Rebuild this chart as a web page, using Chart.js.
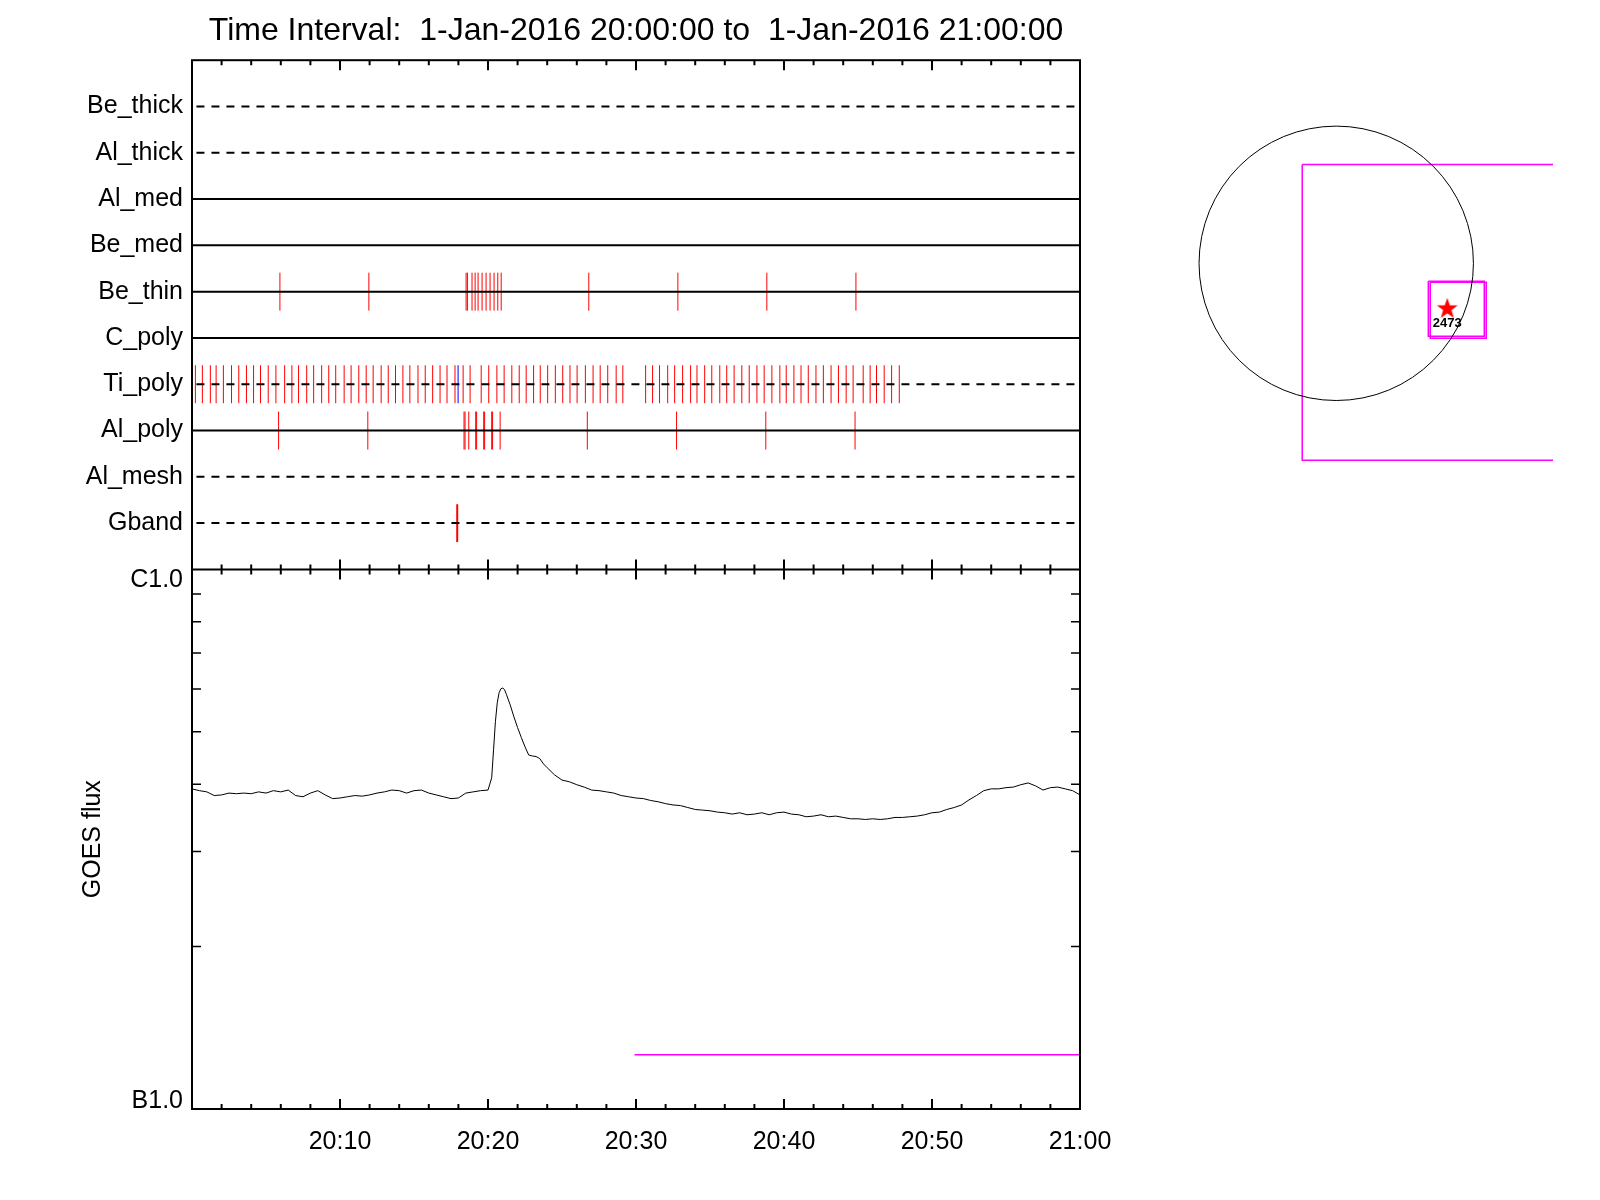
<!DOCTYPE html>
<html>
<head>
<meta charset="utf-8">
<title>XRT filters and GOES flux, 1-Jan-2016</title>
<script src="https://cdn.jsdelivr.net/npm/chart.js@4.4.0/dist/chart.umd.min.js"></script>
<style>
  body { margin: 0; background: #fff; }
  #timeline { position: absolute; left: 0; top: 0; }
  #disc { position: absolute; left: 1140px; top: 40px; }
</style>
</head>
<body>
<canvas id="timeline" width="1600" height="1200"></canvas>
<canvas id="disc" width="413" height="450"></canvas>
<script>
// filter rows, bottom to top (row value 1..10)
const filterNames = ['Gband', 'Al_mesh', 'Al_poly', 'Ti_poly', 'C_poly', 'Be_thin', 'Be_med', 'Al_med', 'Al_thick', 'Be_thick'];
const dashedFilters = ['Gband', 'Al_mesh', 'Ti_poly', 'Al_thick', 'Be_thick'];

// exposures, minutes after 20:00
const beThinTimes = [5.94, 11.95, 18.52, 18.61, 18.92, 19.13, 19.33, 19.60, 19.87, 20.14, 20.41, 20.66, 20.89,
  26.81, 32.83, 38.84, 44.86];
const alPolyTimes = [5.85, 11.88, 18.38, 18.45, 18.70, 19.17, 19.23, 19.71, 19.77, 20.25, 20.31, 20.82,
  26.71, 32.74, 38.77, 44.80];
const tiPolyTimes = [0.23, 0.70, 1.24, 1.63, 2.12, 2.67, 3.16, 3.68, 4.16, 4.63, 5.15, 5.67, 6.26, 6.75,
  7.20, 7.75, 8.22, 8.76, 9.24, 9.71, 10.28, 10.75, 11.27, 11.77, 12.24, 12.78, 13.26, 13.75, 14.25,
  14.72, 15.27, 15.76, 16.26, 16.76, 17.23, 17.77, 18.32, 18.79, 19.54, 20.05, 20.60, 21.09, 21.61,
  22.11, 22.58, 23.08, 23.53, 24.03, 24.55, 25.05, 25.54, 26.02, 26.58, 27.10, 27.58, 28.09, 28.66,
  29.11, 30.65, 31.12, 31.59, 32.14, 32.61, 33.15, 33.69, 34.12, 34.64, 35.12, 35.66, 36.13, 36.63,
  37.15, 37.65, 38.17, 38.66, 39.18, 39.72, 40.15, 40.67, 41.15, 41.64, 42.16, 42.66, 43.18, 43.68,
  44.20, 44.67, 45.35, 45.82, 46.25, 46.77, 47.27, 47.79];
const tiPolyBlueTimes = [17.98];
const gbandTimes = [17.92];

// GOES 1-8 A flux, minutes after 20:00, flux in units of 1e-7 W m^-2
const goesTime = [0, 0.5, 1, 1.5, 2, 2.5, 3, 3.5, 4, 4.5, 5, 5.5, 6, 6.5, 7, 7.5, 8, 8.5, 9, 9.5,
  10, 10.5, 11, 11.5, 12, 12.5, 13, 13.5, 14, 14.5, 15, 15.5, 16, 16.5, 17, 17.5, 18, 18.5, 19, 19.5,
  20, 20.25, 20.375, 20.5, 20.625, 20.75, 20.875, 21, 21.125, 21.25, 21.5, 21.75, 22, 22.25, 22.5, 22.75,
  23, 23.25, 23.5, 23.75, 24, 24.5, 25, 25.5, 26, 26.5, 27, 27.5, 28, 28.5, 29, 29.5,
  30, 30.5, 31, 31.5, 32, 32.5, 33, 33.5, 34, 34.5, 35, 35.5, 36, 36.5, 37, 37.5, 38, 38.5, 39, 39.5,
  40, 40.5, 41, 41.5, 42, 42.5, 43, 43.5, 44, 44.5, 45, 45.5, 46, 46.5, 47, 47.5, 48, 48.5, 49, 49.5,
  50, 50.5, 51, 51.5, 52, 52.5, 53, 53.5, 54, 54.5, 55, 55.5, 56, 56.5, 57, 57.5, 58, 58.5, 59, 59.5, 60];
const goesFlux = [3.92, 3.89, 3.87, 3.81, 3.82, 3.85, 3.84, 3.85, 3.84, 3.87, 3.85, 3.89, 3.87, 3.90, 3.81, 3.79, 3.85, 3.89, 3.82, 3.76,
  3.77, 3.79, 3.81, 3.80, 3.82, 3.85, 3.87, 3.90, 3.89, 3.85, 3.89, 3.90, 3.85, 3.82, 3.79, 3.76, 3.77, 3.85, 3.87, 3.89,
  3.90, 4.11, 4.63, 5.22, 5.66, 5.91, 6.01, 6.03, 5.98, 5.86, 5.61, 5.33, 5.09, 4.88, 4.69, 4.53,
  4.51, 4.50, 4.46, 4.36, 4.29, 4.16, 4.07, 4.04, 3.99, 3.95, 3.90, 3.89, 3.87, 3.85, 3.81, 3.79,
  3.77, 3.76, 3.73, 3.71, 3.68, 3.66, 3.65, 3.62, 3.59, 3.58, 3.57, 3.55, 3.54, 3.52, 3.54, 3.51, 3.52, 3.54, 3.51, 3.54,
  3.55, 3.52, 3.51, 3.48, 3.49, 3.51, 3.48, 3.49, 3.47, 3.45, 3.45, 3.44, 3.45, 3.44, 3.45, 3.47, 3.47, 3.48, 3.49, 3.51,
  3.54, 3.55, 3.59, 3.62, 3.66, 3.74, 3.81, 3.89, 3.92, 3.92, 3.94, 3.95, 3.99, 4.02, 3.97, 3.90, 3.94, 3.95, 3.92, 3.89, 3.82];
const flagTime = [29.9, 60];
const flagFlux = [1.26, 1.26];

// solar disc panel, arcsec from disc centre
const solarRadius = 976;
const fovX = [-242, 1864, 1864, -242, -242];
const fovY = [704, 704, -1401, -1401, 704];
const boxAX = [655, 1053, 1053, 655, 655];
const boxAY = [-128, -128, -519, -519, -128];
const boxBX = [669, 1067, 1067, 669, 669];
const boxBY = [-135, -135, -534, -534, -135];
const arX = 790;
const arY = -324;
const arNumber = '2473';

Chart.defaults.font.family = "'Liberation Sans', Arial, Helvetica, sans-serif";
Chart.defaults.color = '#000';

const zip = (xs, ys) => xs.map((x, i) => ({x: x, y: ys[i]}));

// vertical marks for each exposure, separated by gaps
function exposureMarks(times, row) {
    const pts = [];
    times.forEach(t => {
        pts.push({x: t, y: row - 0.41}, {x: t, y: row + 0.41}, {x: t, y: null});
    });
    return pts;
}

function timeLabel(v) {
    return v >= 60 ? '21:00' : '20:' + String(v).padStart(2, '0');
}

function fluxLabel(v) {
    if (Math.abs(v / 1e-6 - 1) < 1e-6) return 'C1.0';
    if (Math.abs(v / 1e-7 - 1) < 1e-6) return 'B1.0';
    return '';
}

const rowOf = name => filterNames.indexOf(name) + 1;

const datasets = [];

filterNames.forEach((name, i) => {
    const dashed = dashedFilters.includes(name);
    datasets.push({
        data: [{x: dashed ? 0.3 : 0, y: i + 1}, {x: dashed ? 59.7 : 60, y: i + 1}],
        yAxisID: 'yTop',
        borderColor: '#000',
        borderWidth: 2,
        borderDash: dashed ? [8, 7] : [],
        pointRadius: 0
    });
});

[[beThinTimes, 'Be_thin', '#ff0000', 1],
 [alPolyTimes, 'Al_poly', '#ff0000', 1],
 [tiPolyTimes, 'Ti_poly', '#ff0000', 1],
 [tiPolyBlueTimes, 'Ti_poly', '#0000ff', 1],
 [gbandTimes, 'Gband', '#ff0000', 2]].forEach(([times, name, color, width]) => {
    datasets.push({
        data: exposureMarks(times, rowOf(name)),
        yAxisID: 'yTop',
        borderColor: color,
        borderWidth: width,
        pointRadius: 0,
        spanGaps: false
    });
});

datasets.push({
    data: goesTime.map((t, i) => ({x: t, y: goesFlux[i] * 1e-7})),
    yAxisID: 'yBot',
    borderColor: '#000',
    borderWidth: 1,
    pointRadius: 0
});

datasets.push({
    data: flagTime.map((t, i) => ({x: t, y: flagFlux[i] * 1e-7})),
    yAxisID: 'yBot',
    borderColor: '#ff00ff',
    borderWidth: 1.5,
    pointRadius: 0
});

// box, shared edge, inward ticks and the flux end labels, IDL style
const framePlugin = {
    id: 'frame',
    afterDraw(chart) {
        const {ctx, chartArea: a, scales: {x, yTop, yBot}} = chart;
        ctx.save();
        ctx.strokeStyle = '#000';
        ctx.lineWidth = 2;
        ctx.strokeRect(a.left, a.top, a.right - a.left, a.bottom - a.top);
        ctx.beginPath();
        ctx.moveTo(a.left, yTop.bottom);
        ctx.lineTo(a.right, yTop.bottom);
        ctx.stroke();

        ctx.beginPath();
        x.ticks.forEach(t => {
            if (t.value <= x.min || t.value >= x.max) return;
            const px = x.getPixelForValue(t.value);
            const len = t.value % 10 === 0 ? 10 : 5;
            ctx.moveTo(px, a.top);
            ctx.lineTo(px, a.top + len);
            ctx.moveTo(px, yTop.bottom - len);
            ctx.lineTo(px, yTop.bottom + len);
            ctx.moveTo(px, a.bottom);
            ctx.lineTo(px, a.bottom - len);
        });
        ctx.stroke();

        ctx.lineWidth = 1.5;
        ctx.beginPath();
        yBot.ticks.forEach(t => {
            const py = yBot.getPixelForValue(t.value);
            if (py <= yBot.top + 1 || py >= yBot.bottom - 1) return;
            ctx.moveTo(a.left, py);
            ctx.lineTo(a.left + 9, py);
            ctx.moveTo(a.right, py);
            ctx.lineTo(a.right - 9, py);
        });
        ctx.stroke();

        // C1.0 / B1.0 sit just inside the panel
        ctx.font = "25px 'Liberation Sans', Arial, sans-serif";
        ctx.fillStyle = '#000';
        ctx.textAlign = 'right';
        ctx.textBaseline = 'middle';
        yBot.ticks.forEach(t => {
            const label = fluxLabel(t.value);
            if (!label) return;
            const py = yBot.getPixelForValue(t.value);
            const shift = py < (yBot.top + yBot.bottom) / 2 ? 11 : -8;
            ctx.fillText(label, a.left - 9, py + shift);
        });
        ctx.restore();
    }
};

new Chart(document.getElementById('timeline'), {
    type: 'line',
    data: {datasets: datasets},
    options: {
        responsive: false,
        animation: false,
        devicePixelRatio: 1,
        events: [],
        layout: {padding: {left: 0, right: 520, top: 0, bottom: 0}, autoPadding: false},
        plugins: {
            legend: {display: false},
            tooltip: {enabled: false},
            title: {
                display: true,
                fullSize: false,
                text: 'Time Interval:  1-Jan-2016 20:00:00 to  1-Jan-2016 21:00:00',
                color: '#000',
                font: {size: 32, weight: 'normal'},
                padding: {top: 12, bottom: 9.8}
            }
        },
        scales: {
            x: {
                type: 'linear',
                min: 0,
                max: 60,
                position: 'bottom',
                grid: {display: false, drawTicks: false},
                border: {display: false},
                ticks: {
                    stepSize: 2,
                    maxTicksLimit: 100,
                    autoSkip: false,
                    maxRotation: 0,
                    minRotation: 0,
                    padding: 18,
                    font: {size: 25},
                    callback: v => (v % 10 === 0 && v > 0 ? timeLabel(v) : '')
                },
                afterFit: s => { s.height = 91; }
            },
            yBot: {
                type: 'logarithmic',
                min: 1e-7,
                max: 1e-6,
                position: 'left',
                stack: 'panels',
                stackWeight: 539.6,
                weight: 0,
                grid: {display: false, drawTicks: false},
                border: {display: false},
                ticks: {autoSkip: false, padding: 9, font: {size: 25}, callback: () => ''},
                // keep the 1..9 decade ticks only
                afterBuildTicks: s => {
                    s.ticks = s.ticks.filter(t => {
                        const m = t.value / 1e-7;
                        return Math.abs(m - Math.round(m)) < 1e-6;
                    });
                },
                title: {
                    display: true,
                    text: 'GOES flux',
                    font: {size: 25, lineHeight: 1.2},
                    padding: {top: 78, bottom: 0}
                },
                afterFit: s => { s.width = 192; }
            },
            yTop: {
                type: 'linear',
                min: 0,
                max: 11,
                position: 'left',
                stack: 'panels',
                stackWeight: 509.2,
                weight: 1,
                grid: {display: false, drawTicks: false},
                border: {display: false},
                ticks: {
                    stepSize: 1,
                    maxTicksLimit: 100,
                    autoSkip: false,
                    padding: 9,
                    font: {size: 25},
                    callback: v => filterNames[v - 1] || ''
                },
                afterFit: s => { s.width = 192; }
            }
        }
    },
    plugins: [framePlugin]
});

// filled five-point star used as point style
function makeStar(size, color) {
    const c = document.createElement('canvas');
    c.width = c.height = size;
    const g = c.getContext('2d');
    g.fillStyle = color;
    g.beginPath();
    for (let i = 0; i < 10; i++) {
        const r = i % 2 ? size * 0.2 : size / 2;
        const ang = -Math.PI / 2 + i * Math.PI / 5;
        g.lineTo(size / 2 + r * Math.cos(ang), size / 2 + r * Math.sin(ang));
    }
    g.closePath();
    g.fill();
    return c;
}

const arLabelPlugin = {
    id: 'arLabel',
    afterDatasetsDraw(chart) {
        const {ctx, scales: {x, y}} = chart;
        ctx.save();
        ctx.font = "bold 13px 'Liberation Sans', Arial, sans-serif";
        ctx.fillStyle = '#000';
        ctx.textAlign = 'center';
        ctx.textBaseline = 'middle';
        ctx.fillText(arNumber, x.getPixelForValue(arX), y.getPixelForValue(arY) + 15);
        ctx.restore();
    }
};

new Chart(document.getElementById('disc'), {
    type: 'scatter',
    data: {
        datasets: [
            {
                data: [{x: 0, y: 0}],
                pointRadius: ctx => ctx.chart.scales.x.getPixelForValue(solarRadius) - ctx.chart.scales.x.getPixelForValue(0),
                pointBorderColor: '#000',
                pointBackgroundColor: 'rgba(0,0,0,0)',
                pointBorderWidth: 1
            },
            {data: zip(fovX, fovY), showLine: true, borderColor: '#ff00ff', borderWidth: 1.5, pointRadius: 0},
            {data: zip(boxAX, boxAY), showLine: true, borderColor: '#ff00ff', borderWidth: 1.5, pointRadius: 0},
            {data: zip(boxBX, boxBY), showLine: true, borderColor: '#ff00ff', borderWidth: 1.5, pointRadius: 0},
            {data: [{x: arX, y: arY}], pointStyle: makeStar(22, '#ff0000'), pointRadius: 11}
        ]
    },
    options: {
        responsive: false,
        animation: false,
        devicePixelRatio: 1,
        events: [],
        layout: {padding: 0, autoPadding: false},
        plugins: {legend: {display: false}, tooltip: {enabled: false}},
        scales: {
            x: {type: 'linear', min: -1396, max: 1542, display: false},
            y: {type: 'linear', min: -1613, max: 1589, display: false}
        }
    },
    plugins: [arLabelPlugin]
});
</script>
</body>
</html>
